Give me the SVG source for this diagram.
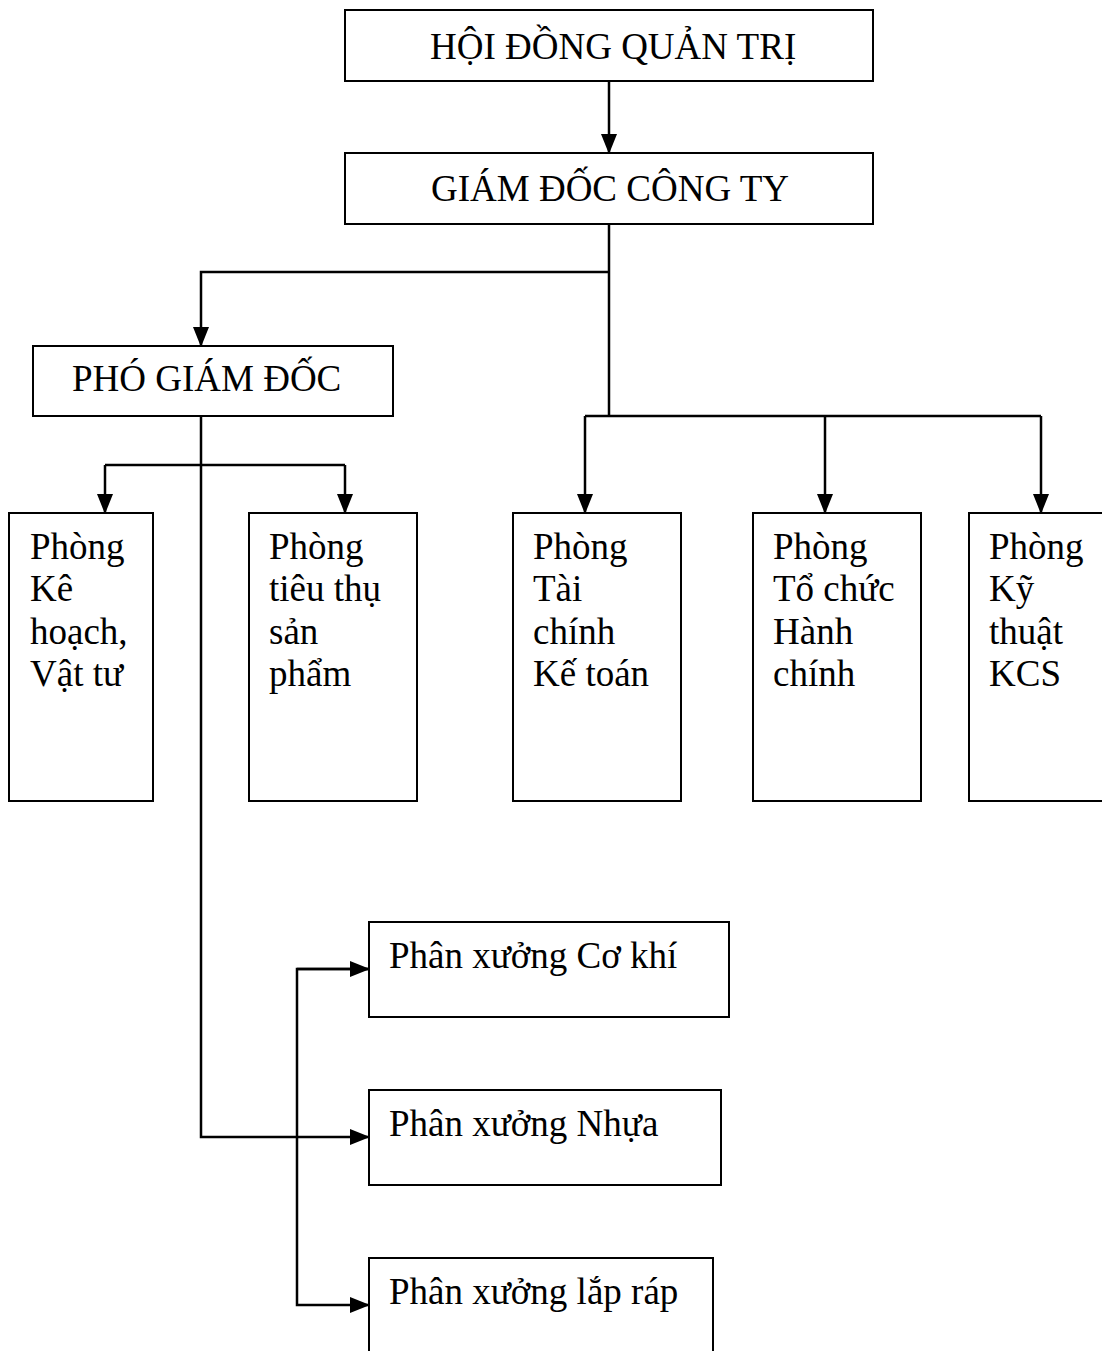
<svg xmlns="http://www.w3.org/2000/svg" width="1102" height="1351" viewBox="0 0 1102 1351">
<style>
.box{fill:#fff;stroke:#000;stroke-width:2}
.t{font-family:"Liberation Serif","Times New Roman",serif;font-size:37px;fill:#000}
.c{fill:none;stroke:#000;stroke-width:2.5}
</style>
<defs>
<marker id="ah" viewBox="0 0 20 16" refX="19" refY="8" markerWidth="20" markerHeight="16" markerUnits="userSpaceOnUse" orient="auto">
<path d="M0,0 L20,8 L0,16 Z" fill="#000"/>
</marker>
</defs>
<rect width="1102" height="1351" fill="#fff"/>
<g id="connectors">
<path class="c" d="M609,81 V153" marker-end="url(#ah)"/>
<path class="c" d="M609,224 V416"/>
<path class="c" d="M609,272 H201 V346" marker-end="url(#ah)"/>
<path class="c" d="M585,416 H1041"/>
<path class="c" d="M585,416 V513" marker-end="url(#ah)"/>
<path class="c" d="M825,416 V513" marker-end="url(#ah)"/>
<path class="c" d="M1041,416 V513" marker-end="url(#ah)"/>
<path class="c" d="M201,416 V1137 H369" marker-end="url(#ah)"/>
<path class="c" d="M105,465 H345"/>
<path class="c" d="M105,465 V513" marker-end="url(#ah)"/>
<path class="c" d="M345,465 V513" marker-end="url(#ah)"/>
<path class="c" d="M369,969 H297 V1305 H369" marker-end="url(#ah)"/>
<path class="c" d="M297,969 H369" marker-end="url(#ah)"/>
</g>
<g id="hdqt"><rect class="box" x="345" y="10" width="528" height="71"/><text class="t" x="430" y="59">HỘI ĐỒNG QUẢN TRỊ</text></g>
<g id="giamdoc"><rect class="box" x="345" y="153" width="528" height="71"/><text class="t" x="431" y="201">GIÁM ĐỐC CÔNG TY</text></g>
<g id="phogiamdoc"><rect class="box" x="33" y="346" width="360" height="70"/><text class="t" x="72" y="391">PHÓ GIÁM ĐỐC</text></g>
<g id="kehoach"><rect class="box" x="9" y="513" width="144" height="288"/><text class="t"><tspan x="30" y="559">Phòng</tspan><tspan x="30" y="601">Kê</tspan><tspan x="30" y="644">hoạch,</tspan><tspan x="30" y="686">Vật tư</tspan></text></g>
<g id="tieuthu"><rect class="box" x="249" y="513" width="168" height="288"/><text class="t"><tspan x="269" y="559">Phòng</tspan><tspan x="269" y="601">tiêu thụ</tspan><tspan x="269" y="644">sản</tspan><tspan x="269" y="686">phẩm</tspan></text></g>
<g id="taichinh"><rect class="box" x="513" y="513" width="168" height="288"/><text class="t"><tspan x="533" y="559">Phòng</tspan><tspan x="533" y="601">Tài</tspan><tspan x="533" y="644">chính</tspan><tspan x="533" y="686">Kế toán</tspan></text></g>
<g id="tochuc"><rect class="box" x="753" y="513" width="168" height="288"/><text class="t"><tspan x="773" y="559">Phòng</tspan><tspan x="773" y="601">Tổ chức</tspan><tspan x="773" y="644">Hành</tspan><tspan x="773" y="686">chính</tspan></text></g>
<g id="kythuat"><rect class="box" x="969" y="513" width="168" height="288"/><text class="t"><tspan x="989" y="559">Phòng</tspan><tspan x="989" y="601">Kỹ</tspan><tspan x="989" y="644">thuật</tspan><tspan x="989" y="686">KCS</tspan></text></g>
<g id="cokhi"><rect class="box" x="369" y="922" width="360" height="95"/><text class="t" x="389" y="968">Phân xưởng Cơ khí</text></g>
<g id="nhua"><rect class="box" x="369" y="1090" width="352" height="95"/><text class="t" x="389" y="1136">Phân xưởng Nhựa</text></g>
<g id="laprap"><rect class="box" x="369" y="1258" width="344" height="120"/><text class="t" x="389" y="1304">Phân xưởng lắp ráp</text></g>
</svg>
